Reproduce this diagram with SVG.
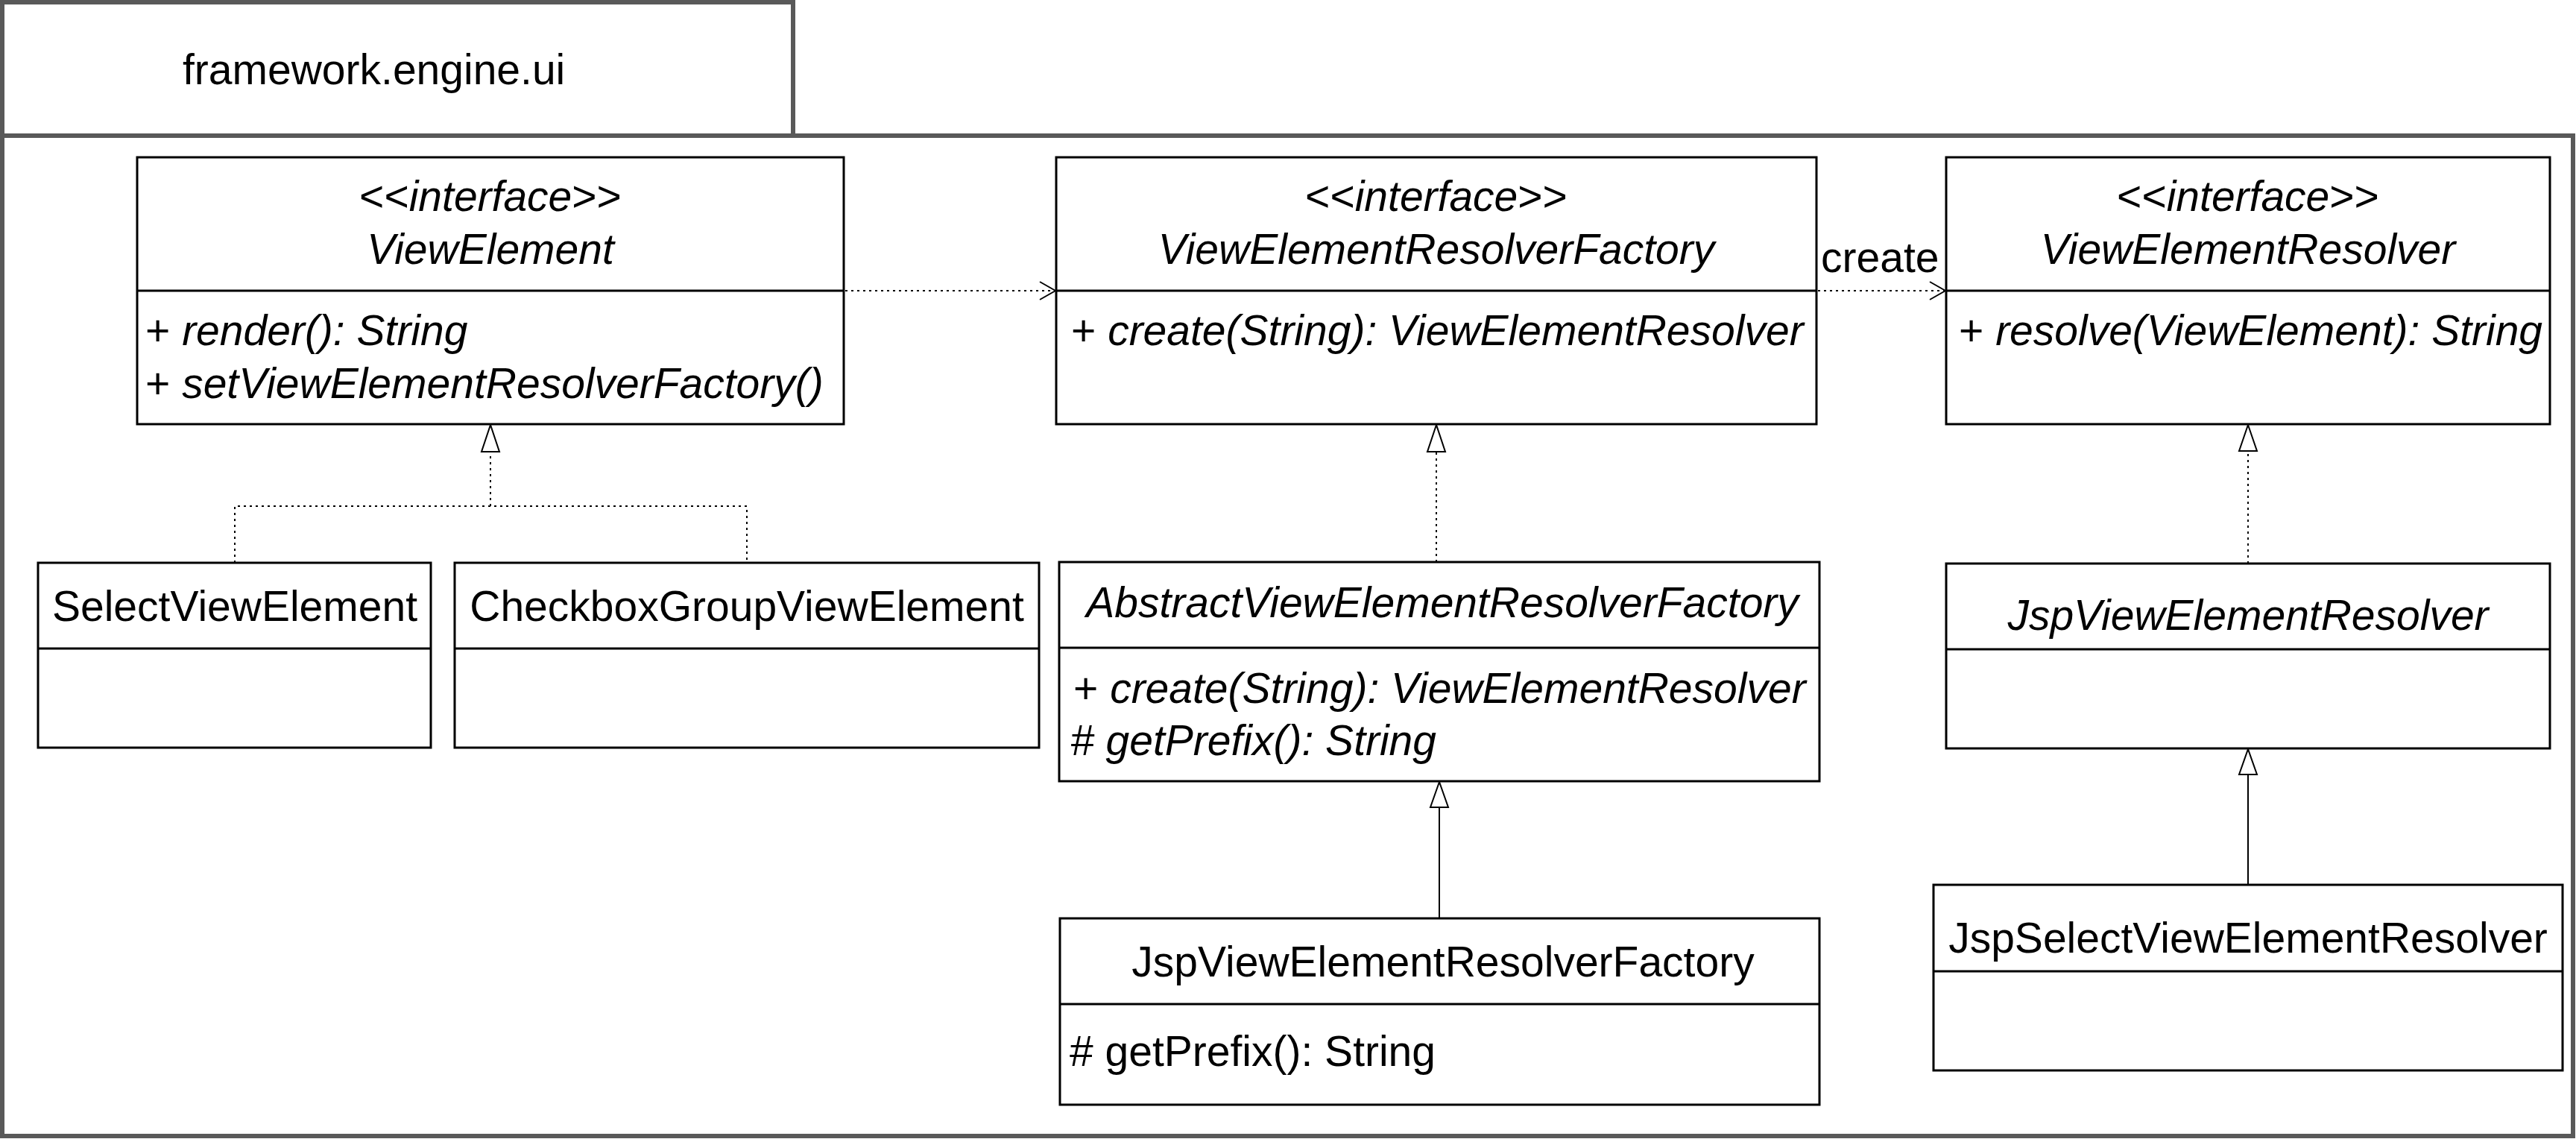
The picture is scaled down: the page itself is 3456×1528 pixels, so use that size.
<svg xmlns="http://www.w3.org/2000/svg" width="3456" height="1528" viewBox="0 0 3456 1528">
<style>
text{font-family:"Liberation Sans",Arial,sans-serif;font-size:57px;fill:#000}
.c{text-anchor:middle}
.i{font-style:italic}
.box{fill:#fff;stroke:#000;stroke-width:3}
.div{stroke:#000;stroke-width:3}
.pkg{fill:#fff;stroke:#595959;stroke-width:6}
.dot{fill:none;stroke:#000;stroke-width:2;stroke-dasharray:3 5}
.sol{fill:none;stroke:#000;stroke-width:2}
.tri{fill:#fff;stroke:#000;stroke-width:2}
.open{fill:none;stroke:#000;stroke-width:2}
</style>
<rect width="3456" height="1528" fill="#fff"/>
<g id="package">
<rect class="pkg" x="3" y="182" width="3449" height="1342"/>
<rect class="pkg" x="3" y="3" width="1061" height="179"/>
<text x="245" y="113">framework.engine.ui</text>
</g>
<g id="connectors">
<!-- ViewElement -> ViewElementResolverFactory dependency -->
<line class="dot" x1="1134" y1="390" x2="1415" y2="390"/>
<polyline class="open" points="1395,378 1416,390 1395,402"/>
<!-- VERF -> VER create -->
<line class="dot" x1="2439" y1="390" x2="2609" y2="390"/>
<polyline class="open" points="2589,378 2610,390 2589,402"/>
<text x="2443" y="365">create</text>
<!-- realizations of ViewElement -->
<polyline class="dot" points="315,755 315,679 1002,679 1002,754"/>
<line class="dot" x1="658" y1="679" x2="658" y2="606"/>
<polygon class="tri" points="658,570 646,606 670,606"/>
<!-- Abstract -> VERF -->
<line class="dot" x1="1927" y1="754" x2="1927" y2="606"/>
<polygon class="tri" points="1927,570 1915,606 1939,606"/>
<!-- JspVERF -> Abstract -->
<line class="sol" x1="1931" y1="1232" x2="1931" y2="1083"/>
<polygon class="tri" points="1931,1049 1919,1083 1943,1083"/>
<!-- JspVER -> VER -->
<line class="dot" x1="3016" y1="756" x2="3016" y2="605"/>
<polygon class="tri" points="3016,570 3004,605 3028,605"/>
<!-- JspSelectVER -> JspVER -->
<line class="sol" x1="3016" y1="1187" x2="3016" y2="1039"/>
<polygon class="tri" points="3016,1005 3004,1039 3028,1039"/>
</g>
<g id="ViewElement">
<rect class="box" x="184" y="211" width="948" height="358"/>
<line class="div" x1="184" y1="390" x2="1132" y2="390"/>
<text class="c" x="658" y="283">&lt;&lt;<tspan class="i">interface</tspan>&gt;&gt;</text>
<text class="c i" x="658" y="354">ViewElement</text>
<text x="195" y="463">+ <tspan class="i">render(): String</tspan></text>
<text x="195" y="534">+ <tspan class="i">setViewElementResolverFactory()</tspan></text>
</g>
<g id="ViewElementResolverFactory">
<rect class="box" x="1417" y="211" width="1020" height="358"/>
<line class="div" x1="1417" y1="390" x2="2437" y2="390"/>
<text class="c" x="1927" y="283">&lt;&lt;<tspan class="i">interface</tspan>&gt;&gt;</text>
<text class="c i" x="1927" y="354">ViewElementResolverFactory</text>
<text x="1437" y="463">+ <tspan class="i">create(String): ViewElementResolver</tspan></text>
</g>
<g id="ViewElementResolver">
<rect class="box" x="2611" y="211" width="810" height="358"/>
<line class="div" x1="2611" y1="390" x2="3421" y2="390"/>
<text class="c" x="3016" y="283">&lt;&lt;<tspan class="i">interface</tspan>&gt;&gt;</text>
<text class="c i" x="3016" y="354">ViewElementResolver</text>
<text x="2628" y="463">+ <tspan class="i">resolve(ViewElement): String</tspan></text>
</g>
<g id="SelectViewElement">
<rect class="box" x="51" y="755" width="527" height="248"/>
<line class="div" x1="51" y1="870" x2="578" y2="870"/>
<text class="c" x="315" y="833">SelectViewElement</text>
</g>
<g id="CheckboxGroupViewElement">
<rect class="box" x="610" y="755" width="784" height="248"/>
<line class="div" x1="610" y1="870" x2="1394" y2="870"/>
<text class="c" x="1002" y="833">CheckboxGroupViewElement</text>
</g>
<g id="AbstractViewElementResolverFactory">
<rect class="box" x="1421" y="754" width="1020" height="294"/>
<line class="div" x1="1421" y1="869" x2="2441" y2="869"/>
<text class="c i" x="1935" y="828">AbstractViewElementResolverFactory</text>
<text x="1440" y="943">+ <tspan class="i">create(String): ViewElementResolver</tspan></text>
<text class="i" x="1436" y="1013"># getPrefix(): String</text>
</g>
<g id="JspViewElementResolverFactory">
<rect class="box" x="1422" y="1232" width="1019" height="250"/>
<line class="div" x1="1422" y1="1347" x2="2441" y2="1347"/>
<text class="c" x="1936" y="1310">JspViewElementResolverFactory</text>
<text x="1435" y="1430"># getPrefix(): String</text>
</g>
<g id="JspViewElementResolver">
<rect class="box" x="2611" y="756" width="810" height="248"/>
<line class="div" x1="2611" y1="871" x2="3421" y2="871"/>
<text class="c i" x="3016" y="845">JspViewElementResolver</text>
</g>
<g id="JspSelectViewElementResolver">
<rect class="box" x="2594" y="1187" width="844" height="249"/>
<line class="div" x1="2594" y1="1303" x2="3438" y2="1303"/>
<text class="c" x="3016" y="1278">JspSelectViewElementResolver</text>
</g>
</svg>
